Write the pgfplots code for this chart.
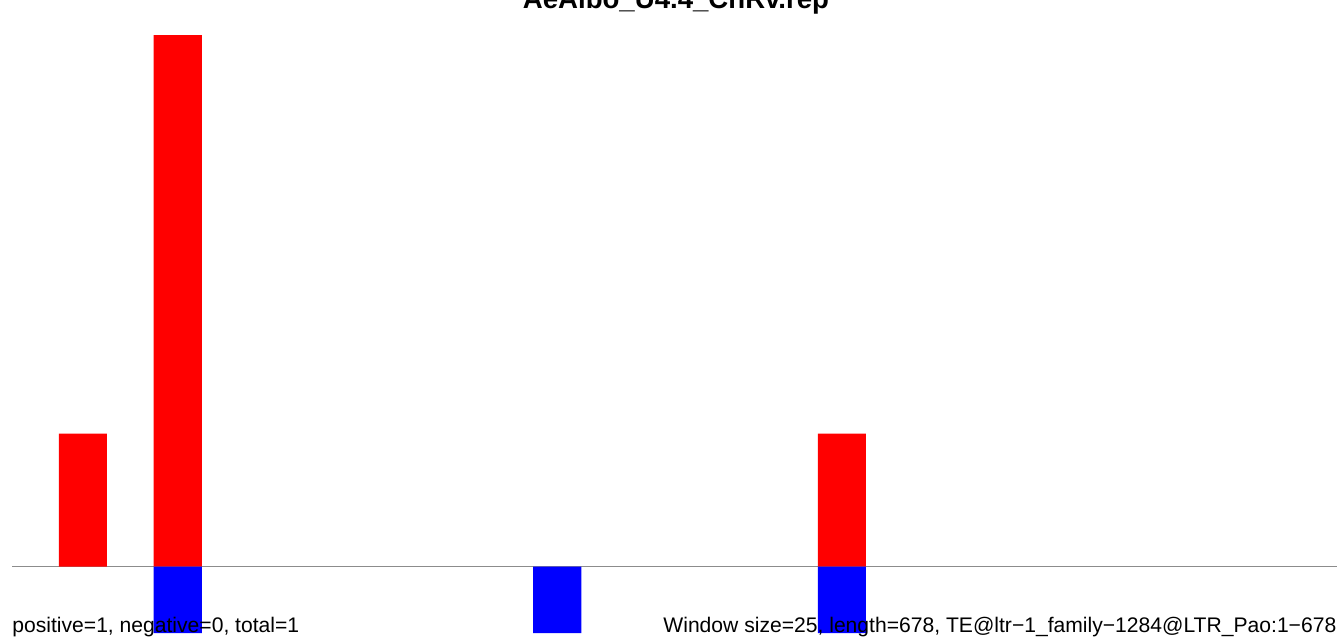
\documentclass[border=0pt]{standalone}
\usepackage{fontspec}
\setmainfont{Liberation Sans}
\usepackage{pgfplots}
\pgfplotsset{compat=1.18}
\begin{document}
\begin{tikzpicture}
\path[use as bounding box] (0,0) rectangle (668.5pt,318.5pt);
\begin{axis}[
  at={(6pt,2pt)}, anchor=south west,
  scale only axis, width=662.5pt, height=299pt,
  xmin=-0.747, xmax=13.219, ymin=-1, ymax=8,
  axis x line=middle, axis y line=none,
  x axis line style={draw=black!45, line width=0.6pt, -},
  xtick=\empty, ytick=\empty,
  ybar, bar width=0.506,
]
\addplot[fill=red, draw=none, bar shift=0pt] coordinates {(0,2) (1,8) (8,2)};
\addplot[fill=blue, draw=none, bar shift=0pt] coordinates {(1,-1) (5,-1) (8,-1)};
\end{axis}
\node[anchor=base, font=\fontsize{13.8pt}{16pt}\selectfont\bfseries] at (338pt,314pt) {AeAlbo\_U4.4\_CnRv.rep};
\node[anchor=base west, inner sep=0pt, font=\fontsize{10.55pt}{12pt}\selectfont] at (6pt,2.5pt) {positive=1, negative=0, total=1};
\node[anchor=base west, inner sep=0pt, font=\fontsize{10.55pt}{12pt}\selectfont] at (331.5pt,2.5pt) {Window size=25, length=678, TE@ltr{\textminus}1\_family{\textminus}1284@LTR\_Pao:1{\textminus}678};
\end{tikzpicture}
\end{document}
